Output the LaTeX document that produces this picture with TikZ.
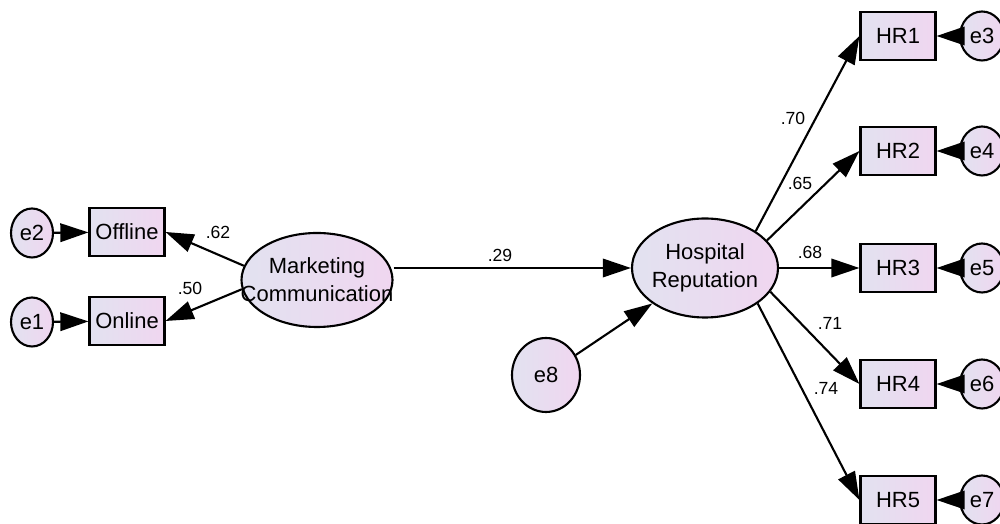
\documentclass[tikz,border=0pt]{standalone}
\usepackage{fontspec}
\setmainfont{Liberation Sans}
\usetikzlibrary{arrows.meta,shapes.geometric}
\definecolor{fillL}{RGB}{226,226,240}
\definecolor{fillR}{RGB}{240,214,240}

\begin{document}
\begin{tikzpicture}[
  latent/.style={ellipse,draw,line width=1.2pt,left color=fillL,right color=fillR,inner sep=0pt},
  observed/.style={rectangle,draw,line width=1.2pt,left color=fillL,right color=fillR,
    minimum width=1.5cm,minimum height=0.96cm,inner sep=0pt,font=\fontsize{12.5}{15}\selectfont},
  err/.style={latent,minimum width=0.84cm,minimum height=0.98cm,font=\fontsize{12.5}{15}\selectfont},
  arr/.style={-{Triangle[length=16pt,width=10.5pt]},line width=1.2pt},
  coef/.style={font=\fontsize{10}{12}\selectfont}]
  \useasboundingbox (0,0) rectangle (20,10.48);
  % measurement part, left
  \node[err] (e2) at (0.64,5.82) {e2};
  \node[err] (e1) at (0.64,4.04) {e1};
  \node[observed] (Offline) at (2.54,5.84) {Offline};
  \node[observed] (Online) at (2.54,4.06) {Online};
  \node[latent,minimum width=3.02cm,minimum height=1.88cm] (MC) at (6.34,4.88) {};
  \node[align=center,font=\fontsize{12.5}{16}\selectfont] (MCtext) at (MC) {Marketing\\Communication};
  \draw[arr] (e2) -- (Offline);
  \draw[arr] (e1) -- (Online);
  \draw[arr] (MC.169) -- (Offline.east);
  \draw[arr] (MC.187) -- (Online.east);
  % structural part
  \node[latent,minimum width=2.92cm,minimum height=1.98cm] (HR) at (14.1,5.12) {};
  \node[align=center,font=\fontsize{12.5}{16}\selectfont] (HRtext) at (HR) {Hospital\\Reputation};
  \node[err,minimum width=1.36cm,minimum height=1.48cm] (e8) at (10.92,2.98) {e8};
  \draw[arr] (MC.east |- HR.west) -- (HR.west);
  \draw[arr] (e8) -- (HR);
  % indicators, right
  \foreach \i/\y/\e/\a in {1/9.76/3/36, 2/7.46/4/24, 3/5.12/5/0, 4/2.80/6/-20, 5/0.48/7/-34} {
    \node[observed] (HR\i) at (17.96,\y) {HR\i};
    \node[err,minimum width=0.88cm] (e\e) at (19.64,\y) {e\e};
    \draw[arr] (HR.\a) -- (HR\i.west);
    \draw[arr] (e\e) -- (HR\i);
  }
  % loadings
  \draw (4.36,5.84) node[coef] (c62) {.62};
  \draw (3.80,4.72) node[coef] (c50) {.50};
  \draw (10.0,5.38) node[coef] (c29) {.29};
  \draw (15.86,8.12) node[coef] (c70) {.70};
  \draw (16.0,6.82) node[coef] (c65) {.65};
  \draw (16.2,5.44) node[coef] (c68) {.68};
  \draw (16.6,4.02) node[coef] (c71) {.71};
  \draw (16.52,2.72) node[coef] (c74) {.74};
\end{tikzpicture}
\end{document}
